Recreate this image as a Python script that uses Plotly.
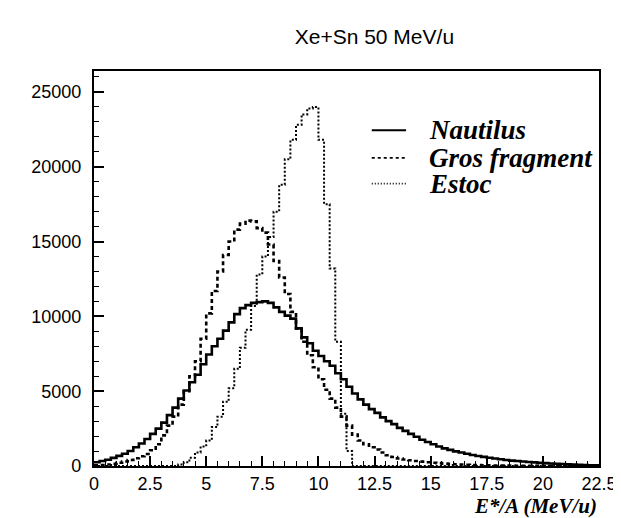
import numpy as np
import plotly.graph_objects as go

# ---- data (bin width 0.25 MeV/u, 90 bins from 0 to 22.5) ----
bin_width = 0.25
bin_left = np.arange(0, 22.5, bin_width)

nautilus = [250, 330, 420, 540, 680, 820, 1000, 1250, 1500, 1800,
            2150, 2500, 2900, 3400, 3900, 4500, 5050, 5600, 6100, 6800,
            7450, 8000, 8500, 9050, 9600, 10150, 10550, 10750, 10900, 10950,
            11000, 10900, 10600, 10300, 10050, 9850, 9200, 8600, 8200, 7700,
            7350, 7000, 6700, 6200, 5800, 5300, 4850, 4450, 4100, 3800,
            3550, 3250, 3000, 2800, 2550, 2350, 2150, 1950, 1750, 1600,
            1450, 1300, 1180, 1080, 980, 900, 820, 740, 670, 610,
            550, 500, 450, 400, 360, 330, 300, 270, 240, 210,
            190, 170, 150, 130, 110, 95, 80, 65, 50, 40]

gros_fragment = [50, 70, 100, 150, 220, 300, 400, 520, 650, 800,
                 1050, 1450, 2050, 2700, 3300, 4100, 5000, 6000, 7000, 8500,
                 10200, 11700, 13000, 14100, 15000, 15800, 16200, 16400, 16350, 15900,
                 15600, 14800, 13700, 12600, 11500, 10300, 9200, 8300, 7400, 6600,
                 5800, 5100, 4500, 3900, 3300, 2700, 2100, 1700, 1450, 1250,
                 1100, 900, 720, 600, 500, 430, 380, 330, 290, 250,
                 220, 190, 160, 140, 120, 100, 85, 70, 60, 50,
                 40, 35, 30, 25, 22, 20, 18, 15, 13, 11,
                 9, 8, 7, 6, 5, 4, 3, 2, 2, 1]

estoc = [0, 0, 0, 0, 0, 0, 0, 0, 0, 0,
         0, 0, 0, 0, 0, 100, 250, 550, 900, 1300,
         1700, 2600, 3300, 4300, 5200, 6500, 7900, 9100, 10700, 12800,
         14000, 15300, 17000, 18800, 20500, 21800, 22800, 23500, 23900, 24000,
         21800, 17500, 13200, 8300, 3500, 1000, 0, 0, 0, 0,
         0, 0, 0, 0, 0, 0, 0, 0, 0, 0,
         0, 0, 0, 0, 0, 0, 0, 0, 0, 0,
         0, 0, 0, 0, 0, 0, 0, 0, 0, 0,
         0, 0, 0, 0, 0, 0, 0, 0, 0, 0]

series_names = ["Nautilus", "Gros fragment", "Estoc"]
x_tick_vals = [0, 2.5, 5, 7.5, 10, 12.5, 15, 17.5, 20, 22.5]
x_tick_text = ["0", "2.5", "5", "7.5", "10", "12.5", "15", "17.5", "20", "22.5"]
y_tick_vals = [0, 5000, 10000, 15000, 20000, 25000]
y_tick_text = ["0", "5000", "10000", "15000", "20000", "25000"]

edges = np.append(bin_left, bin_left[-1] + bin_width)


def step_y(vals):
    return list(vals) + [vals[-1]]


fig = go.Figure()
styles = [dict(color="black", width=2.6, dash="solid"),
          dict(color="black", width=2.6, dash="4px,3px"),
          dict(color="black", width=2.0, dash="2px,2px")]
for name, vals, st in zip(series_names, [nautilus, gros_fragment, estoc], styles):
    fig.add_trace(go.Scatter(
        x=edges, y=step_y(vals), mode="lines", line_shape="hv",
        line=st, name=name, hoverinfo="skip", showlegend=False))

axis_common = dict(showgrid=False, zeroline=False, showline=True, linecolor="black",
                   linewidth=2, mirror=True, ticks="inside", tickcolor="black",
                   tickwidth=1.5, ticklen=10,
                   tickfont=dict(family="Liberation Sans, Arial, sans-serif", size=18, color="black"))

fig.update_xaxes(range=[0, 22.5], tickmode="array", tickvals=x_tick_vals, ticktext=x_tick_text,
                 minor=dict(dtick=0.5, ticks="inside", ticklen=5, tickcolor="black", tickwidth=1.2),
                 **axis_common)
fig.update_yaxes(range=[0, 26400], tickmode="array", tickvals=y_tick_vals,
                 ticktext=[t + "\u2009\u2009" for t in y_tick_text],
                 minor=dict(dtick=1000, ticks="inside", ticklen=5, tickcolor="black", tickwidth=1.2),
                 **axis_common)

# ---- legend drawn inside the frame (sample line + italic bold label) ----
legend_font = dict(family="Liberation Serif, Times New Roman, serif", size=27, color="black")
legend_rows_y = [0.85, 0.78, 0.715]   # paper fractions of the plot area
legend_line_x = (0.55, 0.618)
legend_text_x = 0.66
legend_dash = ["solid", "3px,3px", "1px,2px"]
shapes = []
annotations = []
for name, dsh, ly in zip(series_names, legend_dash, legend_rows_y):
    shapes.append(dict(type="line", xref="paper", yref="paper",
                       x0=legend_line_x[0], x1=legend_line_x[1], y0=ly, y1=ly,
                       line=dict(color="black", width=2 if dsh == "solid" else 1.6, dash=dsh)))
    annotations.append(dict(text="<b><i>" + name + "</i></b>", xref="paper", yref="paper",
                            x=legend_text_x, y=ly, xanchor="left", yanchor="middle",
                            showarrow=False, font=legend_font))

annotations.append(dict(text="<b><i>E*/A (MeV/u)</i></b>", xref="paper", yref="paper",
                        x=1.0, y=-0.1, xanchor="right", yanchor="middle", showarrow=False,
                        font=dict(family="Liberation Serif, Times New Roman, serif", size=21, color="black")))

fig.update_layout(
    width=621, height=518,
    margin=dict(l=86, r=21, t=63, b=60),
    paper_bgcolor="white", plot_bgcolor="white",
    title=dict(text="Xe+Sn 50 MeV/u", x=0.59, xanchor="center", y=0.945, yanchor="middle",
               font=dict(family="Liberation Sans, Arial, sans-serif", size=21, color="black")),
    shapes=shapes,
    annotations=annotations,
)

fig.write_html("out.html")
